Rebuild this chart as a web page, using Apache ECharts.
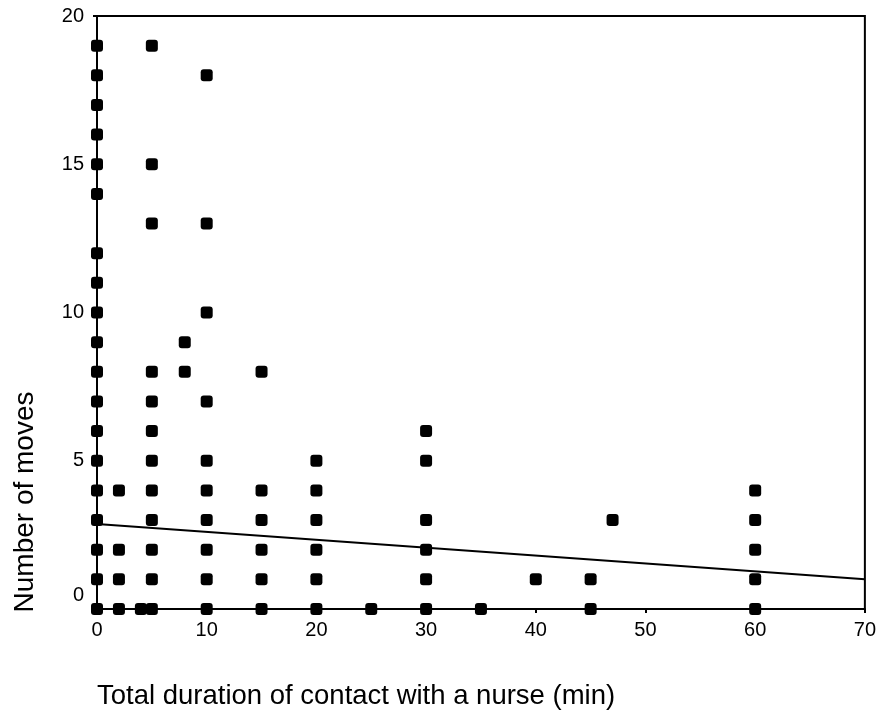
<!DOCTYPE html>
<html>
<head>
    <meta charset="utf-8">
    <title>Number of moves</title>
    <script src="https://cdn.jsdelivr.net/npm/echarts@6/dist/echarts.min.js"></script>
    <style>
        html, body { margin: 0; padding: 0; background: #fff; }
        #chart1 { width: 879px; height: 715px; }
    </style>
</head>
<body>
<div id="chart1"></div>
<script type="text/javascript">
    // durations (min) and the number of moves seen at each one
    var durations = [0, 2, 4, 5, 8, 10, 15, 20, 25, 30, 35, 40, 45, 47, 60];
    var moves0  = [0, 1, 2, 3, 4, 5, 6, 7, 8, 9, 10, 11, 12, 14, 15, 16, 17, 18, 19];
    var moves2  = [0, 1, 2, 4];
    var moves4  = [0];
    var moves5  = [0, 1, 2, 3, 4, 5, 6, 7, 8, 13, 15, 19];
    var moves8  = [8, 9];
    var moves10 = [0, 1, 2, 3, 4, 5, 7, 10, 13, 18];
    var moves15 = [0, 1, 2, 3, 4, 8];
    var moves20 = [0, 1, 2, 3, 4, 5];
    var moves25 = [0];
    var moves30 = [0, 1, 2, 3, 5, 6];
    var moves35 = [0];
    var moves40 = [1];
    var moves45 = [0, 1];
    var moves47 = [3];
    var moves60 = [0, 1, 2, 3, 4];
    var movesByDuration = [moves0, moves2, moves4, moves5, moves8, moves10, moves15,
        moves20, moves25, moves30, moves35, moves40, moves45, moves47, moves60];

    // fitted regression line at both ends
    var fitX = [0, 70];
    var fitY = [2.87, 1.0];

    var xTicks = [0, 10, 20, 30, 40, 50, 60, 70];
    var yTicks = [0, 5, 10, 15, 20];

    var points = [];
    durations.forEach(function (d, i) {
        movesByDuration[i].forEach(function (m) {
            points.push([d, m]);
        });
    });
    var fitLine = fitX.map(function (x, i) { return [x, fitY[i]]; });

    var font = '"Liberation Sans", Arial, sans-serif';
    var myChart1 = echarts.init(document.getElementById('chart1'));
    myChart1.setOption({
        animation: false,
        backgroundColor: '#fff',
        grid: {
            left: 97, right: 11, top: 16, bottom: 106,
            show: true, borderColor: '#000', borderWidth: 2
        },
        xAxis: {
            type: 'value',
            min: xTicks[0], max: xTicks[xTicks.length - 1], interval: 10,
            splitLine: { show: false },
            axisLine: { lineStyle: { color: '#000', width: 2 } },
            axisTick: { length: 4, lineStyle: { color: '#000', width: 2 } },
            axisLabel: { color: '#000', fontSize: 20, fontFamily: font, margin: 11 }
        },
        yAxis: {
            type: 'value',
            min: yTicks[0], max: yTicks[yTicks.length - 1], interval: 5,
            splitLine: { show: false },
            axisLine: { lineStyle: { color: '#000', width: 2 } },
            axisTick: { length: 4, lineStyle: { color: '#000', width: 2 } },
            axisLabel: {
                color: '#000', fontSize: 20, fontFamily: font, margin: 13,
                formatter: function (v) { return v === 0 ? '{z|0}' : String(v); },
                rich: { z: { fontSize: 20, fontFamily: font, color: '#000', padding: [0, 0, 28, 0] } }
            }
        },
        graphic: [
            {
                type: 'text', x: 25, y: 502, rotation: Math.PI / 2,
                style: {
                    text: 'Number of moves', fill: '#000',
                    font: '28px ' + font, textAlign: 'center', textVerticalAlign: 'middle'
                }
            },
            {
                type: 'text', x: 97, y: 696,
                style: {
                    text: 'Total duration of contact with a nurse (min)', fill: '#000',
                    font: '27.5px ' + font, textAlign: 'left', textVerticalAlign: 'middle'
                }
            }
        ],
        series: [
            {
                name: 'fit', type: 'line', data: fitLine,
                symbol: 'none', silent: true,
                lineStyle: { color: '#000', width: 2 }
            },
            {
                name: 'patients', type: 'scatter', data: points,
                symbol: 'roundRect', symbolSize: 12,
                itemStyle: { color: '#000', opacity: 1 }
            }
        ]
    });
</script>
</body>
</html>
